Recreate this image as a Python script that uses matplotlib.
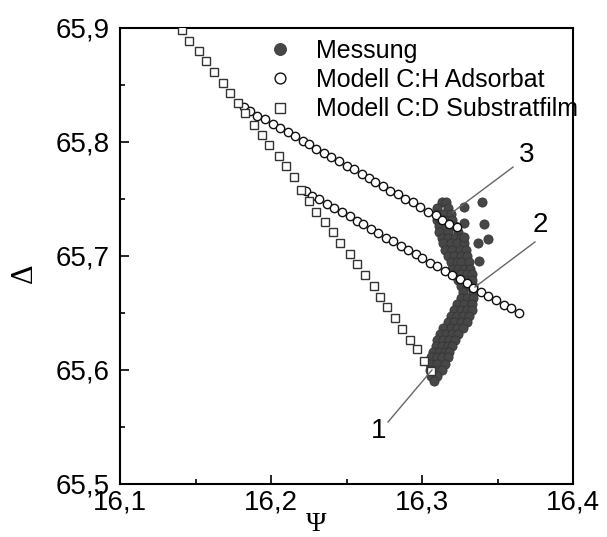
"""Ellipsometrie: Delta-Psi-Verlauf, Messung vs. Modelle."""

import matplotlib

matplotlib.use("Agg")

import matplotlib.pyplot as plt  # noqa: E402
from matplotlib.ticker import MultipleLocator  # noqa: E402

# --- data -------------------------------------------------------------
# Messung: dense band, stored row by row (Delta value, Psi values)
messung_delta_rows = [
    65.747, 65.742, 65.737, 65.732, 65.726, 65.721, 65.716, 65.711,
    65.705, 65.700, 65.695, 65.689, 65.684, 65.679, 65.674, 65.668,
    65.663, 65.658, 65.653, 65.647, 65.642, 65.637, 65.632, 65.626,
    65.621, 65.616, 65.611, 65.605, 65.600, 65.595, 65.590,
]
messung_psi_rows = [
    [16.313, 16.316],
    [16.310, 16.317],
    [16.310, 16.314, 16.319],
    [16.310, 16.315, 16.320],
    [16.311, 16.316, 16.322],
    [16.311, 16.317, 16.324],
    [16.313, 16.317, 16.322, 16.326],
    [16.314, 16.319, 16.323, 16.328],
    [16.315, 16.320, 16.325, 16.329],
    [16.317, 16.321, 16.326, 16.330],
    [16.319, 16.323, 16.326, 16.331],
    [16.320, 16.324, 16.328, 16.332],
    [16.322, 16.326, 16.330, 16.333],
    [16.324, 16.328, 16.333],
    [16.326, 16.330, 16.334],
    [16.327, 16.334],
    [16.326, 16.330, 16.334],
    [16.323, 16.328, 16.333],
    [16.321, 16.326, 16.330, 16.333],
    [16.319, 16.323, 16.327, 16.331],
    [16.317, 16.321, 16.326, 16.330],
    [16.314, 16.319, 16.323, 16.327],
    [16.312, 16.316, 16.320, 16.324],
    [16.310, 16.314, 16.318, 16.322],
    [16.309, 16.313, 16.317, 16.320],
    [16.307, 16.311, 16.315, 16.318],
    [16.306, 16.310, 16.313, 16.317],
    [16.305, 16.310, 16.315],
    [16.305, 16.309, 16.313],
    [16.306, 16.310],
    [16.308],
]
# isolated measurement points right of the band
messung_extra_psi = [16.328, 16.340, 16.328, 16.341, 16.328, 16.337, 16.344, 16.338]
messung_extra_delta = [65.743, 65.747, 65.729, 65.728, 65.717, 65.711, 65.715, 65.696]

# Modell C:H Adsorbat, two branches
ch_upper_psi = [
    16.182, 16.186, 16.191, 16.196, 16.201, 16.206, 16.211, 16.216, 16.221, 16.225,
    16.230, 16.235, 16.240, 16.245, 16.250, 16.255, 16.260, 16.265, 16.269, 16.274,
    16.279, 16.284, 16.289, 16.294, 16.299, 16.304, 16.309, 16.313, 16.318, 16.323,
]
ch_upper_delta = [
    65.831, 65.827, 65.823, 65.820, 65.816, 65.812, 65.809, 65.805, 65.801, 65.798,
    65.794, 65.790, 65.787, 65.783, 65.779, 65.776, 65.772, 65.768, 65.765, 65.761,
    65.757, 65.754, 65.750, 65.747, 65.743, 65.739, 65.736, 65.732, 65.728, 65.725,
]
ch_lower_psi = [
    16.223, 16.227, 16.232, 16.237, 16.242, 16.247, 16.252, 16.257, 16.261, 16.266,
    16.271, 16.276, 16.281, 16.286, 16.291, 16.296, 16.300, 16.305, 16.310, 16.315,
    16.320, 16.325, 16.330, 16.334, 16.339, 16.344, 16.349, 16.354, 16.359, 16.364,
]
ch_lower_delta = [
    65.757, 65.753, 65.750, 65.746, 65.742, 65.739, 65.735, 65.731, 65.728, 65.724,
    65.720, 65.716, 65.713, 65.709, 65.705, 65.702, 65.698, 65.694, 65.691, 65.687,
    65.683, 65.680, 65.676, 65.672, 65.668, 65.665, 65.661, 65.657, 65.654, 65.650,
]

# Modell C:D Substratfilm
cd_psi = [
    16.141, 16.146, 16.152, 16.157, 16.162, 16.168, 16.173, 16.178, 16.183, 16.189,
    16.194, 16.199, 16.205, 16.210, 16.215, 16.220, 16.225, 16.230, 16.236, 16.241,
    16.246, 16.252, 16.257, 16.262, 16.268, 16.272, 16.277, 16.282, 16.287, 16.292,
    16.297, 16.301, 16.306,
]
cd_delta = [
    65.898, 65.889, 65.880, 65.871, 65.861, 65.852, 65.843, 65.834, 65.825, 65.815,
    65.806, 65.797, 65.788, 65.779, 65.769, 65.758, 65.748, 65.739, 65.730, 65.721,
    65.711, 65.702, 65.693, 65.683, 65.674, 65.664, 65.655, 65.646, 65.636, 65.626,
    65.618, 65.608, 65.599,
]

# numbered markers: label, label position, line start, line end
callouts = [
    ("1", (16.2715, 65.5465), (16.2775, 65.5544), (16.3066, 65.600)),
    ("2", (16.3781, 65.7272), (16.3748, 65.7123), (16.3351, 65.6728)),
    ("3", (16.3695, 65.7886), (16.3603, 65.7780), (16.3205, 65.7386)),
]

x_ticks = [16.1, 16.2, 16.3, 16.4]
y_ticks = [65.5, 65.6, 65.7, 65.8, 65.9]

# --- plot -------------------------------------------------------------
plt.rcParams["font.family"] = ["Liberation Sans", "DejaVu Sans"]
serif = ["Liberation Serif", "DejaVu Serif"]

fig = plt.figure(figsize=(6.07, 5.37), dpi=100)
ax = fig.add_axes([0.1977, 0.0987, 0.7463, 0.8492])

mess_x = [p for row in messung_psi_rows for p in row]
mess_y = [d for d, row in zip(messung_delta_rows, messung_psi_rows) for _ in row]
mess_x += messung_extra_psi
mess_y += messung_extra_delta

gray = "#474747"
ax.plot(mess_x, mess_y, "o", ms=6.6, mfc=gray, mec="#363636", mew=0.6,
        label="Messung", zorder=2)
ax.plot(ch_upper_psi, ch_upper_delta, "o", ms=6.0, mfc="white", mec="#111111",
        mew=1.0, label="Modell C:H Adsorbat", zorder=3)
ax.plot(ch_lower_psi, ch_lower_delta, "o", ms=6.0, mfc="white", mec="#111111",
        mew=1.0, zorder=3)
ax.plot(cd_psi, cd_delta, "s", ms=5.3, mfc="white", mec="#333333", mew=1.0,
        label="Modell C:D Substratfilm", zorder=4)

for text, text_pos, start, end in callouts:
    ax.plot([start[0], end[0]], [start[1], end[1]], color="#666666", lw=1.0, zorder=5)
    ax.text(text_pos[0], text_pos[1], text, fontsize=20, ha="center", va="center")

ax.set_xlim(16.1, 16.4)
ax.set_ylim(65.5, 65.9)
ax.set_xticks(x_ticks, [f"{v:.1f}".replace(".", ",") for v in x_ticks])
ax.set_yticks(y_ticks, [f"{v:.1f}".replace(".", ",") for v in y_ticks])
ax.xaxis.set_minor_locator(MultipleLocator(0.05))
ax.yaxis.set_minor_locator(MultipleLocator(0.05))
ax.tick_params(which="both", direction="in", top=False, right=False, width=1.2)
ax.tick_params(which="major", length=6.5, labelsize=20)
ax.tick_params(which="minor", length=3.5)
ax.tick_params(axis="x", which="major", pad=4.3)
ax.tick_params(axis="y", which="major", pad=7.2)
for spine in ax.spines.values():
    spine.set_linewidth(1.5)

ax.set_xlabel("Ψ", family=serif, fontsize=20)
ax.set_ylabel("Δ", family=serif, fontsize=22)
ax.xaxis.set_label_coords(0.433, -0.062)
ax.yaxis.set_label_coords(-0.179, 0.4627)

ax.legend(loc="upper left", bbox_to_anchor=(0.4407, 0.9274),
          bbox_transform=fig.transFigure, frameon=False, fontsize=18,
          borderpad=0, borderaxespad=0, handlelength=1.0, handletextpad=0.95,
          labelspacing=0.21, markerscale=1.3)

fig.savefig("out.png", dpi=100)
